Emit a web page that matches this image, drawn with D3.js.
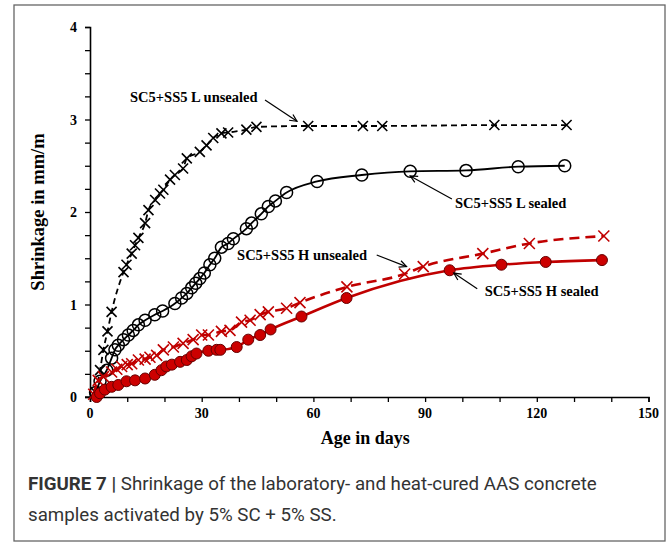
<!DOCTYPE html>
<html><head><meta charset="utf-8">
<script src="https://cdn.jsdelivr.net/npm/d3@7"></script>
<style>body{margin:0;background:#fff}svg{display:block}</style>
</head><body>
<svg id="c" width="672" height="548"></svg>
<script>
// ---- data ----
const xTicks = [0, 30, 60, 90, 120, 150];
const yTicks = [0, 1, 2, 3, 4];

const lUnsealedDays = [1.5, 2.7, 3.6, 4.7, 5.8, 9, 9.8, 11.2, 12.1, 13, 14.8, 15.7, 17.5, 18.8, 19.7, 21.5, 22.8, 25, 26, 29.5, 31.3, 33.1, 35.3, 37.1, 42, 44.7, 58.6, 73.3, 78.5, 108.6, 128];
const lUnsealedVals = [0.05, 0.29, 0.51, 0.71, 0.92, 1.35, 1.43, 1.55, 1.64, 1.72, 1.88, 2.02, 2.13, 2.20, 2.24, 2.35, 2.40, 2.47, 2.58, 2.65, 2.72, 2.80, 2.85, 2.86, 2.89, 2.92, 2.93, 2.93, 2.93, 2.94, 2.94];

const lSealedDays = [1.5, 2.7, 4.5, 5.8, 6.7, 7.6, 9, 10.3, 11.6, 13, 14.8, 17.4, 19.5, 22.8, 24.6, 26, 27.3, 28.4, 29.5, 30.7, 32.2, 33.5, 35.3, 37.1, 38.5, 42, 43.4, 46, 47.9, 49.8, 52.8, 61, 73, 86, 101, 115, 127.5];
const lSealedVals = [0.05, 0.17, 0.29, 0.42, 0.51, 0.56, 0.62, 0.67, 0.72, 0.78, 0.83, 0.89, 0.93, 1.01, 1.07, 1.12, 1.18, 1.23, 1.28, 1.34, 1.43, 1.50, 1.62, 1.66, 1.71, 1.82, 1.88, 1.98, 2.06, 2.12, 2.21, 2.33, 2.40, 2.44, 2.45, 2.49, 2.50];

const hUnsealedDays = [1, 2.2, 3.6, 5.8, 7.2, 8.5, 10, 11.2, 13, 14.8, 16.1, 17.9, 19.7, 22.4, 25, 27.7, 30, 31.8, 35.3, 37.6, 40.7, 43, 45.7, 47.9, 52.8, 56.4, 69, 84.5, 89.5, 105.5, 118, 138];
const hUnsealedVals = [0.03, 0.18, 0.22, 0.27, 0.30, 0.33, 0.35, 0.36, 0.40, 0.41, 0.43, 0.45, 0.51, 0.54, 0.58, 0.62, 0.67, 0.67, 0.71, 0.72, 0.81, 0.83, 0.89, 0.92, 0.96, 1.02, 1.19, 1.33, 1.41, 1.55, 1.66, 1.74];

const hSealedDays = [1.8, 2.7, 4, 5.8, 7.6, 9.8, 12.1, 14.8, 17.4, 19.2, 20.5, 22, 24.2, 26, 27.3, 28.6, 31.8, 34, 35, 39.4, 42.5, 45.7, 48.5, 56.8, 68.9, 96.6, 110.5, 122.4, 137.5];
const hSealedVals = [0.0, 0.04, 0.08, 0.11, 0.13, 0.17, 0.18, 0.20, 0.24, 0.29, 0.33, 0.35, 0.38, 0.40, 0.44, 0.47, 0.50, 0.51, 0.51, 0.54, 0.62, 0.67, 0.73, 0.87, 1.07, 1.37, 1.43, 1.46, 1.48];

const seriesNames = ["SC5+SS5 L unsealed", "SC5+SS5 L sealed", "SC5+SS5 H unsealed", "SC5+SS5 H sealed"];
// label anchor [day, value], arrow from [day,value] to [day,value]
const labelPos = [[10.75, 3.19], [98, 2.04], [39.5, 1.48], [106, 1.09]];
const arrowFrom = [[47, 3.21], [97.2, 2.14], [77, 1.535], [104, 1.17]];
const arrowTo = [[55.6, 2.98], [86, 2.39], [85, 1.41], [97.7, 1.34]];

const xTitle = "Age in days";
const yTitle = "Shrinkage in mm/m";
const captionBold = "FIGURE 7 |";
const captionLine1 = " Shrinkage of the laboratory- and heat-cured AAS concrete";
const captionLine2 = "samples activated by 5% SC + 5% SS.";

// ---- drawing ----
const svg = d3.select("#c");
const RED = "#c00000";
const serif = "'Liberation Serif','Times New Roman',serif";
const sans = "Roboto,'Liberation Sans',Arial,sans-serif";

svg.append("rect").attr("x", 14).attr("y", 5).attr("width", 651).attr("height", 536)
  .attr("fill", "none").attr("stroke", "#666").attr("stroke-width", 1.3);

const x = d3.scaleLinear().domain([0, 150]).range([90, 648.5]);
const y = d3.scaleLinear().domain([0, 4]).range([397, 27]);

// axes
const xAxis = svg.append("g").attr("transform", "translate(0,397)")
  .call(d3.axisBottom(x).tickValues(d3.range(0, 151, 10)).tickSize(5).tickFormat(""));
const yAxis = svg.append("g").attr("transform", "translate(90,0)")
  .call(d3.axisLeft(y).tickValues(d3.range(0, 4.01, 0.25)).tickSize(5).tickFormat(""));
[xAxis, yAxis].forEach(g => {
  g.select(".domain").attr("stroke", "#000").attr("stroke-width", 1.6);
  g.selectAll(".tick line").attr("stroke", "#000").attr("stroke-width", 1.3);
});
svg.append("line").attr("x1", 85).attr("x2", 90).attr("y1", 397).attr("y2", 397).attr("stroke", "#000").attr("stroke-width", 1.3);

svg.append("g").selectAll("text").data(xTicks).join("text")
  .attr("x", d => x(d)).attr("y", 418).attr("text-anchor", "middle")
  .attr("font-family", serif).attr("font-weight", "bold").attr("font-size", 14).text(d => d);
svg.append("g").selectAll("text").data(yTicks).join("text")
  .attr("x", 77).attr("y", d => y(d) + 5).attr("text-anchor", "end")
  .attr("font-family", serif).attr("font-weight", "bold").attr("font-size", 14).text(d => d);

svg.append("text").attr("x", x(75) - 4).attr("y", 444).attr("text-anchor", "middle")
  .attr("font-family", serif).attr("font-weight", "bold").attr("font-size", 18).text(xTitle);
svg.append("text").attr("transform", `translate(44,${y(2)}) rotate(-90)`).attr("text-anchor", "middle")
  .attr("font-family", serif).attr("font-weight", "bold").attr("font-size", 18.5).text(yTitle);

// series
const series = [
  {days: lUnsealedDays, vals: lUnsealedVals, color: "#000", dash: "6,4", w: 1.8, mark: "x"},
  {days: lSealedDays, vals: lSealedVals, color: "#000", dash: null, w: 1.8, mark: "o"},
  {days: hUnsealedDays, vals: hUnsealedVals, color: RED, dash: "10,6", w: 2.6, mark: "x"},
  {days: hSealedDays, vals: hSealedVals, color: RED, dash: null, w: 2.6, mark: "dot"}
];
const line = d3.line().x(d => x(d[0])).y(d => y(d[1])).curve(d3.curveMonotoneX);

series.forEach(s => {
  const pts = s.days.map((d, i) => [d, s.vals[i]]);
  svg.append("path").datum(pts).attr("d", line).attr("fill", "none")
    .attr("stroke", s.color).attr("stroke-width", s.w).attr("stroke-dasharray", s.dash);
  const g = svg.append("g");
  if (s.mark === "x") {
    const r = s.color === RED ? 5.5 : 5;
    pts.forEach(p => {
      const cx = x(p[0]), cy = y(p[1]);
      g.append("path").attr("d", `M${cx - r},${cy - r}L${cx + r},${cy + r}M${cx - r},${cy + r}L${cx + r},${cy - r}`)
        .attr("stroke", s.color).attr("stroke-width", 1.6).attr("fill", "none");
    });
  } else if (s.mark === "o") {
    g.selectAll("circle").data(pts).join("circle").attr("cx", d => x(d[0])).attr("cy", d => y(d[1]))
      .attr("r", 6).attr("fill", "none").attr("stroke", "#000").attr("stroke-width", 1.5);
  } else {
    g.selectAll("circle").data(pts).join("circle").attr("cx", d => x(d[0])).attr("cy", d => y(d[1]))
      .attr("r", 5.5).attr("fill", "#cc0000").attr("stroke", "#600").attr("stroke-width", 1);
  }
});

// annotations
seriesNames.forEach((name, i) => {
  svg.append("text").attr("x", x(labelPos[i][0])).attr("y", y(labelPos[i][1]))
    .attr("font-family", serif).attr("font-weight", "bold").attr("font-size", 14.5).text(name);
  const x1 = x(arrowFrom[i][0]), y1 = y(arrowFrom[i][1]), x2 = x(arrowTo[i][0]), y2 = y(arrowTo[i][1]);
  svg.append("line").attr("x1", x1).attr("y1", y1).attr("x2", x2).attr("y2", y2)
    .attr("stroke", "#000").attr("stroke-width", 1.2);
  const ang = Math.atan2(y2 - y1, x2 - x1), L = 8, sp = 0.45;
  svg.append("path")
    .attr("d", `M${x2 - L * Math.cos(ang - sp)},${y2 - L * Math.sin(ang - sp)}L${x2},${y2}L${x2 - L * Math.cos(ang + sp)},${y2 - L * Math.sin(ang + sp)}`)
    .attr("fill", "none").attr("stroke", "#000").attr("stroke-width", 1.2);
});

// caption (fit line 1 to the reference width)
const cap = svg.append("text").attr("x", 28).attr("y", 490).attr("font-family", sans)
  .attr("font-size", 19).attr("fill", "#333");
cap.append("tspan").attr("font-weight", "bold").text(captionBold);
cap.append("tspan").text(captionLine1);
const w1 = cap.node().getComputedTextLength();
const fs = 19 * 569 / w1;
cap.attr("font-size", fs);
svg.append("text").attr("x", 28).attr("y", 521).attr("font-family", sans)
  .attr("font-size", fs).attr("fill", "#333").text(captionLine2);
</script>
</body></html>
